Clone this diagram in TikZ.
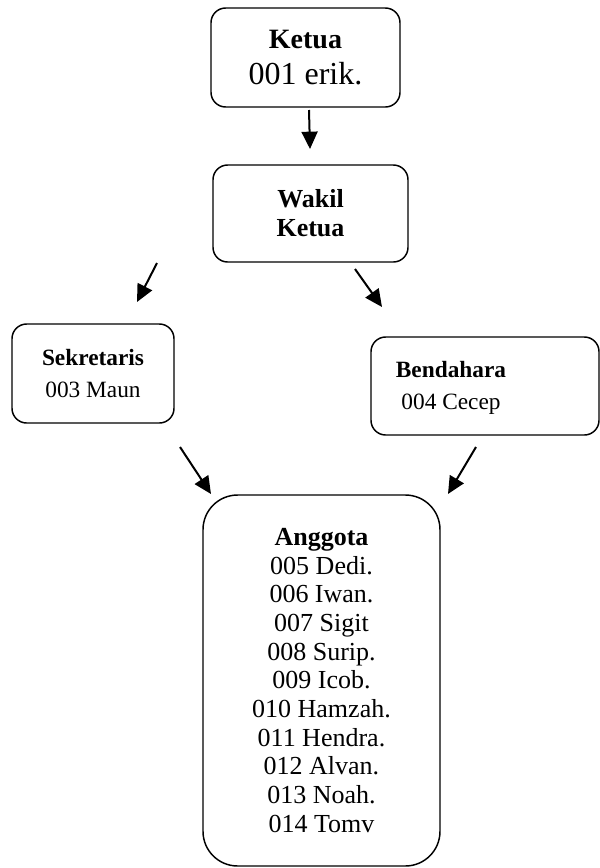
\documentclass[tikz,border=0pt]{standalone}
\usepackage{fontspec}
\setmainfont{Liberation Serif}
\usetikzlibrary{arrows.meta}
\usetikzlibrary{positioning}
\tikzset{orgbox/.style = {draw, line width = 1.1pt, rounded corners = 11pt, align = center, inner sep = 0pt}}
\tikzset{link/.style = {line width = 1.5pt, -{Triangle[length = 13pt, width = 12pt]}}}

\begin{document}
\begin{tikzpicture}[x = 0.75pt, y = -0.75pt]
    \useasboundingbox (0, 0) rectangle (600, 868);

    \node [orgbox, minimum width = 141.75pt, minimum height = 74.25pt,
           font = \fontsize{24}{26.5}\selectfont] (ketua) at (305.5, 57.5)
        {\textbf{\fontsize{21}{26.5}\selectfont Ketua}\\ 001 erik.};
    \node [orgbox, minimum width = 146.25pt, minimum height = 72.75pt,
           font = \fontsize{19.5}{21.75}\selectfont\bfseries] (wakil) at (310.5, 213.5)
        {Wakil\\ Ketua};
    \node [orgbox, minimum width = 121.5pt, minimum height = 74.25pt,
           font = \fontsize{17.5}{23.8}\selectfont] (sekretaris) at (93, 373.5)
        {\textbf{Sekretaris}\\ 003 Maun};
    \node [orgbox, minimum width = 171pt, minimum height = 73.5pt] (bendahara) at (485, 386) {};
    \node [align = center, inner sep = 0pt, font = \fontsize{17.5}{23.8}\selectfont] (bendaharatxt) at (451, 388)
        {\textbf{Bendahara}\\ 004 Cecep};
    \node [orgbox, rounded corners = 26pt, minimum width = 177.75pt, minimum height = 278.25pt,
           font = \fontsize{19.5}{21.5}\selectfont] (anggota) at (321.5, 680.5)
        {\textbf{Anggota}\\ 005 Dedi.\\ 006 Iwan.\\ 007 Sigit\\ 008 Surip.\\
         009 Icob.\\ 010 Hamzah.\\ 011 Hendra.\\ 012 Alvan.\\ 013 Noah.\\ 014 Tomv};

    \coordinate (k1) at (309, 110);
    \coordinate (w1) at (310, 149);
    \coordinate (w2) at (157, 263);
    \coordinate (s1) at (137, 302);
    \coordinate (w3) at (355, 269);
    \coordinate (b1) at (382, 307);
    \coordinate (s2) at (180, 447);
    \coordinate (a1) at (211, 494);
    \coordinate (b2) at (476, 447);
    \coordinate (a2) at (448, 494);

    \draw [link] (k1) -- (w1);
    \draw [link] (w2) -- (s1);
    \draw [link] (w3) -- (b1);
    \draw [link] (s2) -- (a1);
    \draw [link] (b2) -- (a2);
  \end{tikzpicture}
\end{document}
